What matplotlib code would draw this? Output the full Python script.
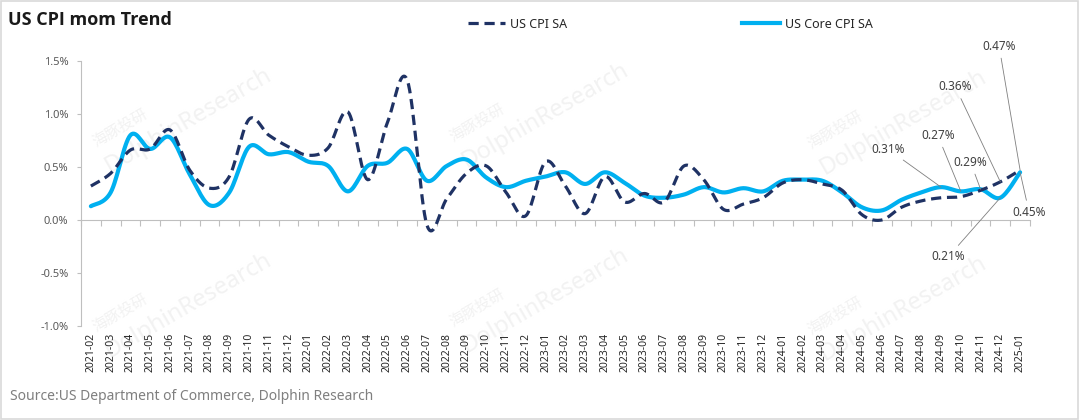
import numpy as np
import matplotlib
matplotlib.use("Agg")
import matplotlib.pyplot as plt
from matplotlib.lines import Line2D
from matplotlib.patches import Rectangle

plt.rcParams['font.family'] = ['Noto Sans', 'Noto Sans CJK SC', 'DejaVu Sans']

# monthly categories 2021-02 .. 2025-01
months = [f"{y}-{m:02d}" for y in range(2021, 2026) for m in range(1, 13)
          if "2021-02" <= f"{y}-{m:02d}" <= "2025-01"]

# month-on-month change, %
cpi_sa = [0.32, 0.44, 0.66, 0.67, 0.85, 0.47, 0.30, 0.41, 0.95, 0.80, 0.69, 0.61,
          0.68, 1.02, 0.38, 0.92, 1.32, -0.05, 0.20, 0.44, 0.51, 0.26, 0.04, 0.55,
          0.32, 0.06, 0.41, 0.17, 0.25, 0.17, 0.51, 0.38, 0.10, 0.15, 0.21, 0.35,
          0.38, 0.34, 0.28, 0.05, 0.00, 0.12, 0.18, 0.21, 0.22, 0.28, 0.36, 0.47]
core_cpi_sa = [0.13, 0.26, 0.80, 0.67, 0.78, 0.43, 0.14, 0.26, 0.69, 0.62, 0.64, 0.55,
               0.51, 0.27, 0.51, 0.54, 0.67, 0.37, 0.51, 0.57, 0.40, 0.31, 0.37, 0.41,
               0.45, 0.34, 0.45, 0.35, 0.23, 0.21, 0.24, 0.31, 0.26, 0.30, 0.27, 0.37,
               0.38, 0.37, 0.26, 0.12, 0.09, 0.19, 0.26, 0.31, 0.27, 0.29, 0.21, 0.45]

yticks = [-1.0, -0.5, 0.0, 0.5, 1.0, 1.5]

# labelled points: (index, text offset in pixels)
cpi_labels = [(46, (-45, 95)), (47, (-21, 124))]
core_labels = [(43, (-53, 38)), (44, (-23, 56)), (45, (-10, 27)),
               (46, (-52, -59)), (47, (9, -40))]


def smooth(y, n=16):
    # Excel-style smoothed line (cubic Bezier through every point)
    x = np.arange(len(y), dtype=float)
    y = np.asarray(y, dtype=float)
    px = np.concatenate([[x[0]], x, [x[-1]]])
    py = np.concatenate([[y[0]], y, [y[-1]]])
    t = np.linspace(0, 1, n, endpoint=False)[:, None]
    xs, ys = [], []
    for i in range(1, len(x)):
        p0, p1, p2, p3 = (np.array([px[k], py[k]]) for k in (i - 1, i, i + 1, i + 2))
        c1 = p1 + (p2 - p0) / 6
        c2 = p2 - (p3 - p1) / 6
        b = ((1 - t) ** 3) * p1 + 3 * ((1 - t) ** 2) * t * c1 + 3 * (1 - t) * t ** 2 * c2 + t ** 3 * p2
        xs.append(b[:, 0]); ys.append(b[:, 1])
    xs.append([x[-1]]); ys.append([y[-1]])
    return np.concatenate(xs), np.concatenate(ys)


navy = '#1F3264'
blue = '#00B0F0'
grey = '#BFBFBF'

fig = plt.figure(figsize=(10.8, 4.2), dpi=100)
ax = fig.add_axes([0.075, 0.2238, 0.8787, 0.631])
ax.set_zorder(2)

# watermarks
for cx, cy in [(188, 120), (545, 115), (903, 122), (188, 305), (545, 300), (903, 308)]:
    fig.text(cx / 1080, 1 - cy / 420, "DolphinResearch", fontsize=17, color='#F2F2F2',
             rotation=30, ha='center', va='center', zorder=0)
    fig.text((cx - 68) / 1080, 1 - (cy + 8) / 420, "海豚投研", fontsize=11, color='#F2F2F2',
             rotation=30, ha='center', va='center', zorder=0,
             family=['Noto Sans CJK SC', 'DejaVu Sans'])

xs, ys = smooth(cpi_sa)
ax.plot(xs, ys, color=navy, lw=2.3, dashes=(3.2, 1.8), solid_capstyle='butt', zorder=3)
xs, ys = smooth(core_cpi_sa)
ax.plot(xs, ys, color=blue, lw=3.0, zorder=2, solid_capstyle='round')

ax.set_xlim(-0.5, len(months) - 0.5)
ax.set_ylim(-1.0, 1.5)
ax.set_yticks(yticks)
ax.set_yticklabels([f"{v:.1f}%" for v in yticks], fontsize=8, color='#595959')
ax.set_xticks(range(len(months)))
ax.set_xticklabels(months, rotation=90, fontsize=7.5, color='#262626')
ax.tick_params(axis='x', length=0, pad=5)
ax.tick_params(axis='y', length=3, color=grey, pad=6)
for s in ['top', 'right', 'bottom']:
    ax.spines[s].set_visible(False)
ax.spines['left'].set_color(grey)
ax.patch.set_alpha(0)

# zero line with category tick marks
zero_pos = (0 - yticks[0]) / (yticks[-1] - yticks[0])
sec = ax.secondary_xaxis(zero_pos)
sec.set_xticks(np.arange(-0.5, len(months), 1.0))
sec.set_xticklabels([])
sec.tick_params(length=4, color=grey, direction='out')
sec.spines['bottom'].set_color(grey)

# data labels
for i, off in cpi_labels:
    ax.annotate(f"{cpi_sa[i]:.2f}%", xy=(i, cpi_sa[i]), xytext=off, textcoords='offset pixels',
                ha='center', va='center', fontsize=8.5, color='#404040',
                arrowprops=dict(arrowstyle='-', color='#7F7F7F', lw=0.6, shrinkA=2, shrinkB=0),
                zorder=5)
for i, off in core_labels:
    ax.annotate(f"{core_cpi_sa[i]:.2f}%", xy=(i, core_cpi_sa[i]), xytext=off, textcoords='offset pixels',
                ha='center', va='center', fontsize=8.5, color='#404040',
                arrowprops=dict(arrowstyle='-', color='#7F7F7F', lw=0.6, shrinkA=2, shrinkB=0),
                zorder=5)

# title, legend, source
fig.text(8 / 1080, 1 - 20 / 420, "US CPI mom Trend", fontsize=13, fontweight='bold',
         family=['Open Sans', 'DejaVu Sans'], color='#1A1A1A', ha='left', va='center')
handles = [Line2D([], [], color=navy, lw=2.3, dashes=(3.2, 1.8)),
           Line2D([], [], color=blue, lw=3.0)]
fig.legend(handles, ["US CPI SA", "US Core CPI SA"], loc='center', ncol=2,
           bbox_to_anchor=(670 / 1080, 1 - 24 / 420), frameon=False, fontsize=9,
           handlelength=3.0, columnspacing=14, handletextpad=0.4, labelcolor='#262626')
fig.text(10 / 1080, 1 - 397 / 420, "Source:US Department of Commerce, Dolphin Research",
         fontsize=10, color='#7F7F7F', ha='left', va='center')

fig.patches.append(Rectangle((0.001, 0.002), 0.997, 0.995, transform=fig.transFigure,
                             fill=False, edgecolor='#D9D9D9', lw=1.2))

fig.savefig("out.png", dpi=100)
